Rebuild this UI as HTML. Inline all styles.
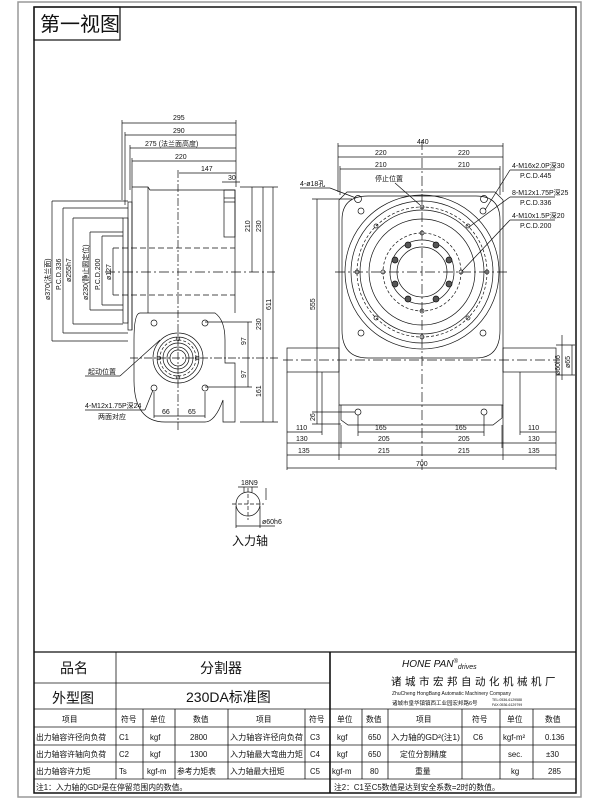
<!DOCTYPE html>
<html><head><meta charset="utf-8"><style>
html,body{margin:0;padding:0;background:#fff;}
svg{display:block;}
text{font-family:"Liberation Sans","Noto Sans CJK SC",sans-serif;fill:#111;}
.d{font-size:7px;}
.t{font-size:7.8px;}
</style></head><body>
<svg width="600" height="800" viewBox="0 0 600 800" xmlns="http://www.w3.org/2000/svg">
<rect x="18" y="2" width="563" height="795" fill="none" stroke="#999" stroke-width="1.5"/>
<rect x="34" y="7" width="542" height="786" fill="none" stroke="#111" stroke-width="1.5"/>
<rect x="34" y="7" width="86" height="33" fill="none" stroke="#111" stroke-width="1.2"/>
<text x="40" y="31" style="font-size:20px">第一视图</text>

<g stroke="#111" fill="none" stroke-width="0.7">
<line x1="122" y1="123" x2="236" y2="123"/><line x1="125" y1="135" x2="236" y2="135"/>
<line x1="130" y1="148" x2="236" y2="148"/><line x1="132" y1="161" x2="236" y2="161"/>
<line x1="179" y1="173" x2="236" y2="173"/><line x1="222" y1="182" x2="240" y2="182"/>
<line x1="122" y1="120" x2="122" y2="200"/><line x1="125" y1="132" x2="125" y2="205"/>
<line x1="130" y1="145" x2="130" y2="190"/><line x1="132" y1="158" x2="132" y2="187"/>
<line x1="236" y1="120" x2="236" y2="187"/>
<line x1="178" y1="170" x2="178" y2="430" stroke-dasharray="8 2 2 2"/>
<path d="M132 187 H148 L150 190 H235 V313 M132 187 V330 M148 187 V313"/>
<rect x="224" y="190" width="11" height="47"/>
<line x1="224" y1="198" x2="235" y2="198"/><line x1="224" y1="202" x2="235" y2="202"/>
<rect x="128" y="202" width="4" height="128"/>
<rect x="123" y="218" width="5" height="105"/>
<line x1="113" y1="248" x2="113" y2="295"/>
<line x1="113" y1="248" x2="235" y2="248" stroke-dasharray="6 3"/>
<line x1="113" y1="295" x2="235" y2="295" stroke-dasharray="6 3"/>
<line x1="105" y1="272" x2="275" y2="272" stroke-dasharray="10 3 2 3"/>
<path d="M140 313 H215 Q225 320 225 340 V363 H235 V422 H223 V400 Q215 422 205 422 H165 Q134 422 134 380 V340 Q134 313 140 313 Z"/>
<circle cx="178" cy="358" r="25"/><circle cx="178" cy="358" r="21"/>
<circle cx="178" cy="358" r="15"/><circle cx="178" cy="358" r="11"/><circle cx="178" cy="358" r="8"/>
<circle cx="178" cy="358" r="18" stroke-dasharray="3 2"/>
<circle cx="154" cy="323" r="3"/><circle cx="205" cy="323" r="3"/><circle cx="154" cy="388" r="3"/><circle cx="205" cy="388" r="3"/>
<circle cx="178" cy="339" r="1.8"/><circle cx="178" cy="377" r="1.8"/><circle cx="159" cy="358" r="1.8"/><circle cx="197" cy="358" r="1.8"/>
<line x1="130" y1="358" x2="280" y2="358" stroke-dasharray="8 2 2 2"/>
<line x1="240" y1="187" x2="278" y2="187"/><line x1="240" y1="422" x2="278" y2="422"/>
<line x1="252" y1="187" x2="252" y2="272"/><line x1="263" y1="187" x2="263" y2="422"/><line x1="273" y1="187" x2="273" y2="422"/>
<line x1="248" y1="322" x2="248" y2="387"/><line x1="205" y1="322" x2="252" y2="322"/><line x1="205" y1="387" x2="252" y2="387"/>
<line x1="52" y1="201" x2="52" y2="341"/><line x1="52" y1="201" x2="128" y2="201"/><line x1="52" y1="341" x2="128" y2="341"/>
<line x1="63" y1="208" x2="63" y2="333"/><line x1="63" y1="208" x2="128" y2="208"/><line x1="63" y1="333" x2="128" y2="333"/>
<line x1="73" y1="218" x2="73" y2="324"/><line x1="73" y1="218" x2="123" y2="218"/><line x1="73" y1="324" x2="123" y2="324"/>
<line x1="90" y1="232" x2="90" y2="310"/><line x1="90" y1="232" x2="123" y2="232"/><line x1="90" y1="310" x2="123" y2="310"/>
<line x1="102" y1="236" x2="102" y2="305"/><line x1="102" y1="236" x2="123" y2="236"/><line x1="102" y1="305" x2="123" y2="305"/>
<line x1="154" y1="392" x2="154" y2="418"/><line x1="205" y1="392" x2="205" y2="418"/>
<line x1="154" y1="416" x2="205" y2="416"/>
<line x1="85" y1="376" x2="120" y2="376"/><line x1="120" y1="376" x2="160" y2="340"/>
<line x1="85" y1="410" x2="145" y2="410"/><line x1="145" y1="410" x2="153" y2="390"/>

<line x1="338" y1="146" x2="503" y2="146"/><line x1="338" y1="157" x2="503" y2="157"/><line x1="340" y1="169" x2="500" y2="169"/>
<line x1="338" y1="143" x2="338" y2="192"/><line x1="503" y1="143" x2="503" y2="192"/>
<line x1="340" y1="166" x2="340" y2="195"/><line x1="500" y1="166" x2="500" y2="195"/>
<line x1="422" y1="140" x2="422" y2="470" stroke-dasharray="10 3 2 3"/>
<path d="M347 192 H495 L503 200 V405 H339 V200 Z"/>
<path d="M341 405 V420 L348 425 H493 L502 418 V405"/>
<path d="M342 220 Q342 196 368 196 H476 Q500 196 500 220 V330 Q500 358 476 358 H368 Q342 358 342 330 Z"/>
<circle cx="422" cy="272" r="77"/><circle cx="422" cy="272" r="71"/><circle cx="422" cy="272" r="62"/>
<circle cx="422" cy="272" r="53"/><circle cx="422" cy="272" r="32"/><circle cx="422" cy="272" r="25"/>
<circle cx="422" cy="272" r="65" stroke-dasharray="3 2"/><circle cx="422" cy="272" r="39" stroke-dasharray="3 2"/>
<circle cx="358" cy="199" r="3.5"/><circle cx="484" cy="199" r="3.5"/>
<circle cx="361" cy="211" r="3"/><circle cx="483" cy="211" r="3"/><circle cx="361" cy="333" r="3"/><circle cx="483" cy="333" r="3"/>
<circle cx="357" cy="272" r="2"/><circle cx="487" cy="272" r="2"/><circle cx="422" cy="207" r="2"/><circle cx="422" cy="337" r="2"/>
<circle cx="376" cy="226" r="2"/><circle cx="468" cy="226" r="2"/><circle cx="376" cy="318" r="2"/><circle cx="468" cy="318" r="2"/>
<circle cx="383" cy="272" r="2"/><circle cx="461" cy="272" r="2"/><circle cx="422" cy="233" r="2"/><circle cx="422" cy="311" r="2"/>
<g fill="#555"><circle cx="408" cy="245" r="3"/><circle cx="436" cy="245" r="3"/><circle cx="395" cy="260" r="3"/><circle cx="449" cy="260" r="3"/>
<circle cx="395" cy="284" r="3"/><circle cx="449" cy="284" r="3"/><circle cx="408" cy="299" r="3"/><circle cx="436" cy="299" r="3"/></g>
<line x1="335" y1="272" x2="510" y2="272" stroke-dasharray="10 3 2 3"/>
<rect x="287" y="348" width="52" height="24"/><rect x="503" y="348" width="53" height="24"/>
<line x1="283" y1="360" x2="560" y2="360" stroke-dasharray="10 3 2 3"/>
<circle cx="358" cy="412" r="3"/><circle cx="484" cy="412" r="3"/>
<line x1="312" y1="199" x2="352" y2="199"/><line x1="317" y1="199" x2="317" y2="424"/>
<line x1="312" y1="412" x2="355" y2="412"/><line x1="312" y1="424" x2="341" y2="424"/>
<line x1="287" y1="372" x2="287" y2="470"/><line x1="556" y1="372" x2="556" y2="470"/>
<line x1="339" y1="405" x2="339" y2="460"/><line x1="503" y1="405" x2="503" y2="460"/>
<line x1="341" y1="425" x2="341" y2="448"/><line x1="502" y1="425" x2="502" y2="448"/>
<line x1="322" y1="372" x2="322" y2="435"/><line x1="520" y1="372" x2="520" y2="435"/>
<line x1="358" y1="415" x2="358" y2="436"/><line x1="484" y1="415" x2="484" y2="436"/>
<line x1="287" y1="432" x2="322" y2="432"/><line x1="520" y1="432" x2="556" y2="432"/><line x1="358" y1="432" x2="484" y2="432"/>
<line x1="287" y1="443" x2="556" y2="443"/><line x1="287" y1="455" x2="556" y2="455"/><line x1="287" y1="468" x2="556" y2="468"/>
<line x1="556" y1="345" x2="575" y2="345"/><line x1="556" y1="375" x2="575" y2="375"/>
<line x1="562" y1="335" x2="562" y2="380"/><line x1="572" y1="345" x2="572" y2="375"/>
<line x1="300" y1="188" x2="330" y2="188"/><line x1="330" y1="188" x2="356" y2="198"/>
<line x1="395" y1="183" x2="420" y2="205"/>
<line x1="510" y1="170" x2="555" y2="170"/><line x1="510" y1="170" x2="485" y2="210"/>
<line x1="510" y1="197" x2="555" y2="197"/><line x1="510" y1="197" x2="469" y2="227"/>
<line x1="510" y1="220" x2="555" y2="220"/><line x1="510" y1="220" x2="462" y2="271"/>

<circle cx="248" cy="504" r="12"/>
<line x1="248" y1="488" x2="248" y2="520" stroke-dasharray="4 2"/><line x1="232" y1="504" x2="264" y2="504" stroke-dasharray="4 2"/>
<line x1="244" y1="487" x2="244" y2="492"/><line x1="252" y1="487" x2="252" y2="492"/>
<line x1="238" y1="487" x2="258" y2="487"/><line x1="236" y1="506" x2="236" y2="528"/><line x1="260" y1="506" x2="260" y2="528"/>
<line x1="236" y1="526" x2="275" y2="526"/><line x1="266" y1="488" x2="266" y2="500"/>
</g>

<g class="d">
<text x="173" y="120">295</text><text x="173" y="133">290</text><text x="145" y="146">275 (法兰面高度)</text>
<text x="175" y="159">220</text><text x="201" y="171">147</text><text x="228" y="180">30</text>
<text x="250" y="232" transform="rotate(-90 250 232)">210</text>
<text x="261" y="232" transform="rotate(-90 261 232)">230</text>
<text x="271" y="310" transform="rotate(-90 271 310)">611</text>
<text x="261" y="330" transform="rotate(-90 261 330)">230</text>
<text x="246" y="345" transform="rotate(-90 246 345)">97</text>
<text x="246" y="378" transform="rotate(-90 246 378)">97</text>
<text x="261" y="397" transform="rotate(-90 261 397)">161</text>
<text x="50" y="300" transform="rotate(-90 50 300)">ø370(法兰面)</text>
<text x="61" y="290" transform="rotate(-90 61 290)">P.C.D.336</text>
<text x="71" y="282" transform="rotate(-90 71 282)">ø255h7</text>
<text x="88" y="300" transform="rotate(-90 88 300)">ø230(静止圆定位)</text>
<text x="100" y="290" transform="rotate(-90 100 290)">P.C.D.200</text>
<text x="111" y="280" transform="rotate(-90 111 280)">ø127</text>
<text x="88" y="374">起动位置</text>
<text x="85" y="408">4-M12x1.75P深24</text><text x="98" y="419">两面对应</text>
<text x="162" y="414">66</text><text x="188" y="414">65</text>
<text x="417" y="144">440</text><text x="375" y="155">220</text><text x="458" y="155">220</text>
<text x="375" y="167">210</text><text x="458" y="167">210</text>
<text x="300" y="186">4-ø18孔</text><text x="375" y="181">停止位置</text>
<text x="512" y="168">4-M16x2.0P深30</text><text x="520" y="178">P.C.D.445</text>
<text x="512" y="195">8-M12x1.75P深25</text><text x="520" y="205">P.C.D.336</text>
<text x="512" y="218">4-M10x1.5P深20</text><text x="520" y="228">P.C.D.200</text>
<text x="315" y="310" transform="rotate(-90 315 310)">555</text>
<text x="315" y="421" transform="rotate(-90 315 421)">26</text>
<text x="560" y="375" transform="rotate(-90 560 375)">ø60h6</text>
<text x="570" y="368" transform="rotate(-90 570 368)">ø65</text>
<text x="296" y="430">110</text><text x="528" y="430">110</text>
<text x="296" y="441">130</text><text x="375" y="430">165</text><text x="455" y="430">165</text>
<text x="378" y="441">205</text><text x="458" y="441">205</text><text x="528" y="441">130</text>
<text x="298" y="453">135</text><text x="378" y="453">215</text><text x="458" y="453">215</text><text x="528" y="453">135</text>
<text x="416" y="466">700</text>
<text x="241" y="485">18N9</text><text x="262" y="524">ø60h6</text>
</g>
<text x="232" y="545" style="font-size:12px">入力轴</text>

<g stroke="#111" fill="none" stroke-width="0.8">
<line x1="34" y1="652" x2="576" y2="652" stroke-width="1.2"/>
<line x1="34" y1="683" x2="330" y2="683"/>
<line x1="34" y1="709" x2="576" y2="709"/>
<line x1="34" y1="727" x2="576" y2="727"/><line x1="34" y1="745" x2="576" y2="745"/>
<line x1="34" y1="762" x2="576" y2="762"/><line x1="34" y1="779" x2="576" y2="779"/>
<line x1="116" y1="652" x2="116" y2="709"/>
<line x1="330" y1="652" x2="330" y2="793" stroke-width="1.6"/>
<line x1="116" y1="709" x2="116" y2="779"/><line x1="143" y1="709" x2="143" y2="779"/>
<line x1="175" y1="709" x2="175" y2="779"/><line x1="228" y1="709" x2="228" y2="779"/>
<line x1="305" y1="709" x2="305" y2="779"/><line x1="362" y1="709" x2="362" y2="779"/>
<line x1="388" y1="709" x2="388" y2="779"/><line x1="462" y1="709" x2="462" y2="779"/>
<line x1="500" y1="709" x2="500" y2="779"/><line x1="533" y1="709" x2="533" y2="779"/>
</g>
<g style="font-size:14px">
<text x="60" y="673">品名</text><text x="52" y="703">外型图</text>
<text x="200" y="673">分割器</text><text x="186" y="702">230DA标准图</text>
</g>
<text x="402" y="667" style="font-size:10px;font-style:italic">HONE PAN<tspan style="font-size:6px" dy="-4">®</tspan><tspan style="font-size:7px" dy="6">drives</tspan></text>
<text x="391" y="685" style="font-size:10.5px;letter-spacing:3.5px">诸城市宏邦自动化机械机厂</text>
<text x="392" y="695" style="font-size:5px">ZhuCheng HongBang Automatic Machinery Company</text>
<text x="392" y="705" style="font-size:5.5px">诸城市皇华镇镇西工业园宏邦路6号</text>
<text x="492" y="701" style="font-size:3.5px">TEL:0536-6129588</text><text x="492" y="706" style="font-size:3.5px">FAX:0536-6129799</text>
<g class="t">
<text x="62" y="722">项目</text><text x="121" y="722">符号</text><text x="150" y="722">单位</text><text x="193" y="722">数值</text>
<text x="256" y="722">项目</text><text x="309" y="722">符号</text><text x="337" y="722">单位</text><text x="366" y="722">数值</text>
<text x="416" y="722">项目</text><text x="472" y="722">符号</text><text x="507" y="722">单位</text><text x="545" y="722">数值</text>
<text x="36" y="740">出力轴容许径向负荷</text><text x="119" y="740">C1</text><text x="150" y="740">kgf</text><text x="190" y="740">2800</text>
<text x="230" y="740" textLength="73" lengthAdjust="spacingAndGlyphs">入力轴容许径向负荷</text><text x="310" y="740">C3</text><text x="337" y="740">kgf</text><text x="368" y="740">650</text>
<text x="391" y="740" textLength="69" lengthAdjust="spacingAndGlyphs">入力轴的GD²(注1)</text><text x="473" y="740">C6</text><text x="503" y="740">kgf-m²</text><text x="545" y="740">0.136</text>
<text x="36" y="757">出力轴容许轴向负荷</text><text x="119" y="757">C2</text><text x="150" y="757">kgf</text><text x="190" y="757">1300</text>
<text x="230" y="757" textLength="73" lengthAdjust="spacingAndGlyphs">入力轴最大弯曲力矩</text><text x="310" y="757">C4</text><text x="337" y="757">kgf</text><text x="368" y="757">650</text>
<text x="400" y="757">定位分割精度</text><text x="508" y="757">sec.</text><text x="546" y="757">±30</text>
<text x="36" y="774">出力轴容许力矩</text><text x="119" y="774">Ts</text><text x="147" y="774">kgf-m</text><text x="177" y="774">参考力矩表</text>
<text x="230" y="774">入力轴最大扭矩</text><text x="310" y="774">C5</text><text x="332" y="774">kgf-m</text><text x="370" y="774">80</text>
<text x="415" y="774">重量</text><text x="511" y="774">kg</text><text x="548" y="774">285</text>
<text x="36" y="790">注1：入力轴的GD²是在停留范围内的数值。</text>
<text x="334" y="790">注2：C1至C5数值是达到安全系数=2时的数值。</text>
</g>
</svg>
</body></html>
